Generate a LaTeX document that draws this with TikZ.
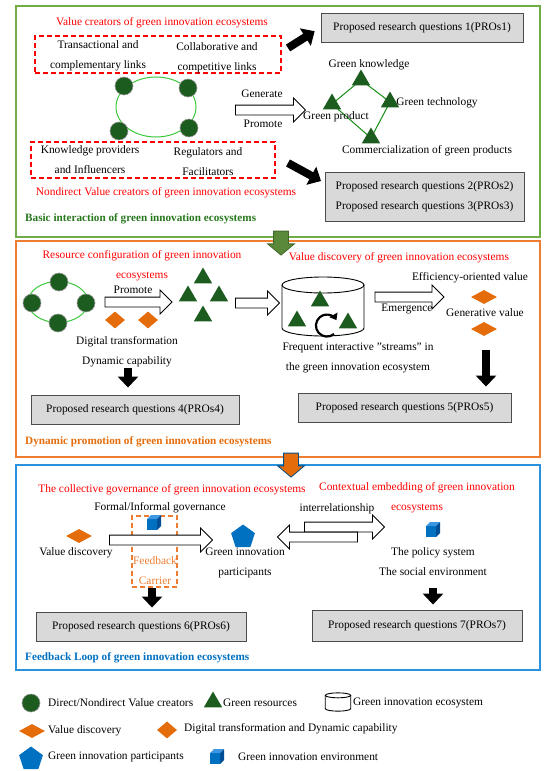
\documentclass[tikz,border=0pt]{standalone}
\usepackage{fontspec}
\setmainfont{Liberation Serif}
\usepackage{tikz}
\usetikzlibrary{arrows.meta,positioning,shapes.geometric,shapes.arrows,backgrounds}
\definecolor{GIgreen}{RGB}{112,173,71}
\definecolor{GIorange}{RGB}{237,125,49}
\definecolor{GIblue}{RGB}{41,146,222}
\definecolor{GIdark}{RGB}{28,92,30}
\definecolor{GIdia}{RGB}{228,108,10}
\definecolor{GIcube}{RGB}{0,112,192}
\definecolor{GIcubetop}{RGB}{60,150,225}
\definecolor{GIcubeside}{RGB}{0,78,150}
\definecolor{GIgray}{RGB}{217,217,217}
\definecolor{GIred}{RGB}{255,0,0}
\definecolor{GItitle}{RGB}{40,120,30}
\definecolor{GIring}{RGB}{60,200,60}

\begin{document}
\begin{tikzpicture}[x=1pt, y=-1pt,
    txt/.style={font=\fontsize{11.4}{20}\selectfont, align=center, inner sep=1pt},
    redtxt/.style={txt, text=GIred},
    sectlbl/.style={font=\fontsize{11.2}{14}\selectfont\bfseries, anchor=west, inner sep=1pt},
    prq/.style={draw=black!70, fill=GIgray, line width=0.9pt, font=\fontsize{11.4}{20}\selectfont, align=center, inner sep=1pt},
    linkbox/.style={draw=GIred, line width=1.1pt, dash pattern=on 5pt off 3pt, inner sep=0pt},
    vc/.style={circle, fill=GIdark, draw=black!40, line width=0.6pt, minimum size=18pt, inner sep=0pt},
    res/.style={regular polygon, regular polygon sides=3, fill=GIdark, minimum size=21pt, inner sep=0pt},
    dt/.style={diamond, fill=GIdia, minimum width=20pt, minimum height=17pt, inner sep=0pt},
    vd/.style={diamond, fill=GIdia, minimum width=26pt, minimum height=14pt, inner sep=0pt},
    part/.style={regular polygon, regular polygon sides=5, fill=GIcube, minimum size=25pt, inner sep=0pt},
    hollowarr/.style={single arrow, draw, fill=white, line width=0.8pt, inner sep=4.5pt, minimum width=0pt, single arrow head extend=7pt, single arrow tip angle=90},
    secarr/.style={single arrow, shape border rotate=270, line width=0.8pt, inner sep=7pt, minimum width=0pt, single arrow head extend=6pt, single arrow tip angle=100, minimum height=24pt},
    blkarr/.style={line width=8pt, -{Triangle[width=20pt, length=11pt]}},
    cube/.pic={
      \fill[GIcube] (-7,-4) rectangle (3,7);
      \fill[GIcubetop] (-7,-4) -- (-3,-8) -- (7,-8) -- (3,-4) -- cycle;
      \fill[GIcubeside] (3,-4) -- (7,-8) -- (7,3) -- (3,7) -- cycle;
    },
    ecopic/.pic={
      \draw[line width=0.9pt] (-41,-21.5) -- (-41,21.5) arc[start angle=180, end angle=0, x radius=41, y radius=8] -- (41,-21.5);
      \draw[line width=0.9pt] (0,-21.5) ellipse[x radius=41, y radius=8];
    }
  ]
  \useasboundingbox (0,0) rectangle (550,771);

  % basic interaction
  \draw[GIgreen, line width=1.3pt] (16,6) rectangle (540,237);
  \node[redtxt] (vctitle) at (162,23) {Value creators of green innovation ecosystems};
  \node[linkbox, minimum width=246pt, minimum height=37pt] (linkbox) at (158,54.5) {};
  \node[txt] (translink) at (98,56) {Transactional and\\complementary links};
  \node[txt] (collink) at (217,58) {Collaborative and\\competitive links};
  \node[ellipse, draw=GIring, line width=1pt, minimum width=80pt, minimum height=60pt] (ring1) at (156,107) {};
  \node[vc] (vc1) at (124,86) {};
  \node[vc] (vc2) at (188,88) {};
  \node[vc] (vc3) at (119,131) {};
  \node[vc] (vc4) at (189,128) {};
  \node[linkbox, minimum width=244pt, minimum height=36pt] (infbox) at (153,160) {};
  \node[txt] (knowprov) at (90,160) {Knowledge providers\\and Influencers};
  \node[txt] (regfac) at (208,162) {Regulators and\\Facilitators};
  \node[redtxt] (ndtitle) at (166,193) {Nondirect Value creators of green innovation ecosystems};

  \node[prq, minimum width=202pt, minimum height=29pt] (pro1) at (422,27.5) {Proposed research questions 1(PROs1)};
  \coordinate (a1) at (288,48);
  \draw[blkarr, shorten >=7pt] (a1) -- (pro1.west);

  \node[hollowarr, minimum height=70pt] (genarr) at (268,110) {};
  \node[txt] (gen) at (262,94) {Generate};
  \node[txt] (prom) at (263,124) {Promote};

  \node[res] (gk) at (361,80) {};
  \node[res] (gp) at (332,104) {};
  \node[res] (gt) at (390,102) {};
  \node[res] (cg) at (371,138) {};
  \begin{scope}[on background layer]
    \draw[GIdark!70!green, line width=1pt] (gk.center) -- (gp.center) -- (cg.center) -- (gt.center) -- cycle;
  \end{scope}
  \node[txt] (gklbl) at (369,65) {Green knowledge};
  \node[txt] (gtlbl) at (437,103) {Green technology};
  \node[txt] (gplbl) at (336,117) {Green product};
  \node[txt] (cglbl) at (427,151) {Commercialization of green products};

  \node[prq, minimum width=199pt, minimum height=49pt] (pro23) at (424.5,196.5) {Proposed research questions 2(PROs2)\\Proposed research questions 3(PROs3)};
  \coordinate (a2) at (288,163);
  \coordinate (a2e) at (321,181);
  \draw[blkarr] (a2) -- (a2e);
  \node[sectlbl, text=GItitle] (sec1lbl) at (24,219) {Basic interaction of green innovation ecosystems};

  % dynamic promotion
  \draw[GIorange, line width=1.3pt] (16,241) rectangle (540,457);
  \node[secarr, fill=GIgreen!80!black, draw=GIgreen!60!black] (down1) at (281,240) {};
  \node[redtxt] (rctitle) at (142,266) {Resource configuration of green innovation\\ecosystems};
  \node[ellipse, draw=GIring, line width=1pt, minimum width=60pt, minimum height=41pt] (ring2) at (58,302) {};
  \node[vc] (vc5) at (59,282) {};
  \node[vc] (vc6) at (32,303) {};
  \node[vc] (vc7) at (86,303) {};
  \node[vc] (vc8) at (58,323) {};
  \node[txt] (prom2) at (133,290) {Promote};
  \node[hollowarr, minimum height=67pt] (promarr) at (136,302) {};
  \node[dt] (dt1) at (115,320) {};
  \node[dt] (dt2) at (148,320) {};
  \node[res] (r1) at (203,278) {};
  \node[res] (r2) at (188,296) {};
  \node[res] (r3) at (219,296) {};
  \node[res] (r4) at (203,316) {};
  \node[hollowarr, minimum height=44pt] (resarr) at (255,303) {};
  \pic at (323,306.5) {ecopic};
  \node[res] (r5) at (320,301) {};
  \node[res] (r6) at (297,321) {};
  \node[res] (r7) at (348,323) {};
  \draw[line width=2.2pt, -{Triangle[width=9pt, length=6pt]}] (334,334) arc[start angle=50, end angle=330, radius=11];
  \node[redtxt] (vdtitle) at (399,258) {Value discovery of green innovation ecosystems};
  \node[hollowarr, minimum height=69pt] (emarr) at (407,297) {};
  \node[txt] (emlbl) at (407,309) {Emergence};
  \node[txt] (effval) at (470,278) {Efficiency-oriented value};
  \node[vd] (vd1) at (484,297) {};
  \node[txt] (genval) at (485,313) {Generative value};
  \node[vd] (vd2) at (484,329) {};
  \node[txt] (streams) at (358,358) {Frequent interactive "streams" in\\the green innovation ecosystem};
  \node[prq, minimum width=213pt, minimum height=29pt] (pro5) at (404.5,407.5) {Proposed research questions 5(PROs5)};
  \coordinate (a5) at (486,350);
  \draw[blkarr, shorten >=6pt] (a5) -- (pro5.north -| a5);
  \node[txt] (dtlbl) at (127,352) {Digital transformation\\Dynamic capability};
  \node[prq, minimum width=208pt, minimum height=29pt] (pro4) at (135,409.5) {Proposed research questions 4(PROs4)};
  \coordinate (a4) at (128,368);
  \draw[blkarr, shorten >=7pt] (a4) -- (pro4.north -| a4);
  \node[sectlbl, text=GIdia] (sec2lbl) at (24,442) {Dynamic promotion of green innovation ecosystems};

  % feedback loop
  \draw[GIblue, line width=1.3pt] (16,465) rectangle (540,670);
  \node[secarr, fill=GIdia, draw=GIcube!70!black] (down2) at (291,462) {};
  \node[redtxt] (cgtitle) at (172,490) {The collective governance of green innovation ecosystems};
  \node[redtxt] (cetitle) at (417,497.5) {Contextual embedding of green innovation\\ecosystems};
  \node[txt] (fig) at (160,508) {Formal/Informal governance};
  \node[draw=GIorange, line width=1.1pt, dash pattern=on 5pt off 3pt, minimum width=45pt, minimum height=71pt, inner sep=0pt] (fbbox) at (154.5,551.5) {};
  \pic at (154,523) {cube};
  \node[txt, text=GIorange] (fblbl) at (155,571) {Feedback\\Carrier};
  \node[vd] (vd3) at (79,536) {};
  \node[txt] (vdlbl) at (76,553) {Value discovery};
  \node[hollowarr, minimum height=103pt] (fbarr) at (158.5,540) {};
  \node[part] (gip) at (243,537) {};
  \node[txt] (giplbl) at (245,563) {Green innovation\\participants};
  \node[txt] (interlbl) at (337,509) {interrelationship};
  \node[hollowarr, minimum height=80pt] (irarr1) at (342,527) {};
  \node[hollowarr, minimum height=80pt, shape border rotate=180] (irarr2) at (320,537) {};
  \pic at (433,530) {cube};
  \node[txt] (envlbl) at (433,562) {The policy system\\The social environment};
  \node[prq, minimum width=210pt, minimum height=31pt] (pro7) at (417,625.5) {Proposed research questions 7(PROs7)};
  \coordinate (a7) at (433,588);
  \draw[blkarr, shorten >=5pt] (a7) -- (pro7.north -| a7);
  \node[prq, minimum width=210pt, minimum height=29pt] (pro6) at (141,626.5) {Proposed research questions 6(PROs6)};
  \coordinate (a6) at (152,588);
  \draw[blkarr, shorten >=4pt] (a6) -- (pro6.north -| a6);
  \node[sectlbl, text=GIcube] (sec3lbl) at (24,658) {Feedback Loop of green innovation ecosystems};

  % legend
  \node[vc] (lgvc) at (31,703) {};
  \node[txt, anchor=west] (lgvclbl) at (47,703) {Direct/Nondirect Value creators};
  \node[res] (lgres) at (213,702) {};
  \node[txt, anchor=west] (lgreslbl) at (222,703) {Green resources};
  \pic[scale=0.31] at (338,702) {ecopic};
  \node[txt, anchor=west] (lgecolbl) at (352,703) {Green innovation ecosystem};
  \node[vd] (lgvd) at (32,731) {};
  \node[txt, anchor=west] (lgvdlbl) at (47,731) {Value discovery};
  \node[dt] (lgdt) at (167,730) {};
  \node[txt, anchor=west] (lgdtlbl) at (183,729) {Digital transformation and Dynamic capability};
  \node[part] (lgpart) at (31,759) {};
  \node[txt, anchor=west] (lgpartlbl) at (47,757) {Green innovation participants};
  \pic at (217,757) {cube};
  \node[txt, anchor=west] (lgcubelbl) at (237,757) {Green innovation environment};
\end{tikzpicture}
\end{document}
